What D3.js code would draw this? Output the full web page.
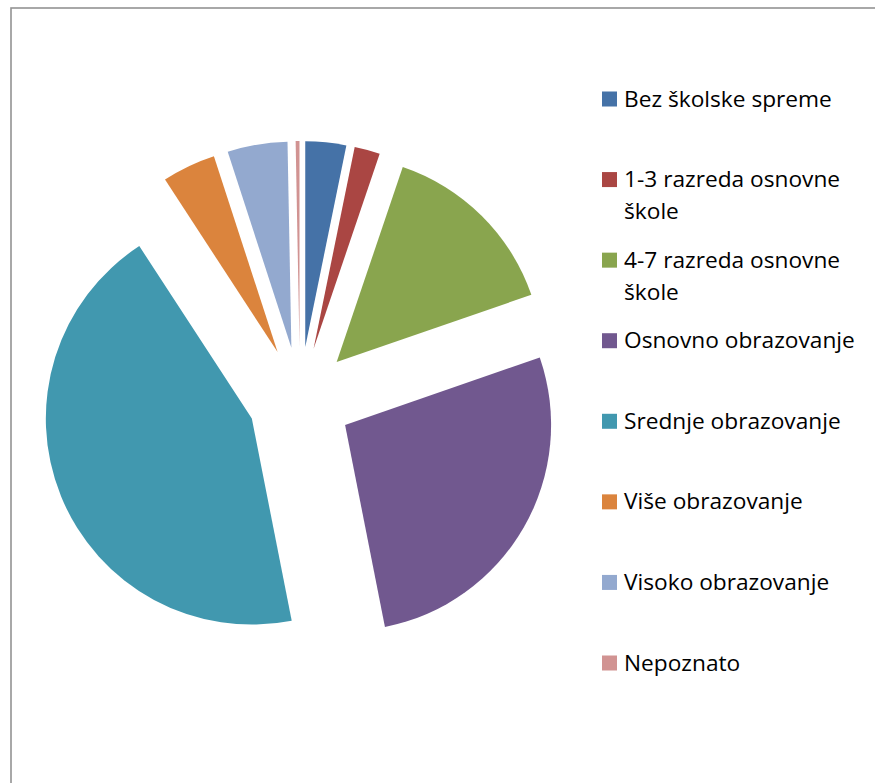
<!DOCTYPE html>
<html>
<head>
<meta charset="utf-8">
<script src="https://cdn.jsdelivr.net/npm/d3@7"></script>
<style>
body { margin: 0; background: #fff; }
.legendText {
  font-family: "Open Sans", sans-serif;
  font-size: 20px;
  fill: #000;
}
</style>
</head>
<body>
<svg width="875" height="783"></svg>
<script>
// share of population by education level (%)
var categories = ["Bez školske spreme", "1-3 razreda osnovne škole", "4-7 razreda osnovne škole",
                  "Osnovno obrazovanje", "Srednje obrazovanje", "Više obrazovanje",
                  "Visoko obrazovanje", "Nepoznato"];
var values = [3.2, 2.0, 14.5, 27.2, 43.9, 4.2, 4.7, 0.3];
var colors = ["#4572A7", "#AA4643", "#89A54E", "#71588F", "#4198AF", "#DB843D", "#93A9CF", "#D19392"];

var svg = d3.select("svg");

// chart frame (only left and top edges are visible in the window)
svg.append("rect")
    .attr("x", 11).attr("y", 8)
    .attr("width", 1000).attr("height", 1000)
    .style("fill", "none")
    .style("stroke", "#939393")
    .style("stroke-width", 1.6);

var cx = 300, cy = 399,
    radius = 206,
    explode = 52;

var pie = d3.pie()
    .sort(null)
    .value(function(d) { return d; });

var arc = d3.arc()
    .innerRadius(0)
    .outerRadius(radius);

var color = d3.scaleOrdinal()
    .domain(categories)
    .range(colors);

var g = svg.append("g").attr("transform", "translate(" + cx + "," + cy + ")");

g.selectAll("path")
    .data(pie(values))
    .enter().append("path")
      .attr("d", arc)
      .attr("transform", function(d) {
        var a = (d.startAngle + d.endAngle) / 2;
        return "translate(" + (explode * Math.sin(a)) + "," + (-explode * Math.cos(a)) + ")";
      })
      .style("fill", function(d, i) { return color(categories[i]); });

// fit legend font so the first label is as wide as in the original (~208px)
var probe = svg.append("text").attr("class", "legendText").text(categories[0]);
var fontSize = 20 * 208 / probe.node().getComputedTextLength();
probe.remove();

// legend
var legendY = d3.scalePoint()
    .domain(categories)
    .range([99, 663]);

var legend = svg.append("g").selectAll("g")
    .data(categories)
    .enter().append("g")
      .attr("transform", function(d) { return "translate(602," + legendY(d) + ")"; });

legend.append("rect")
    .attr("x", 0).attr("y", -7.5)
    .attr("width", 15).attr("height", 15)
    .style("fill", function(d) { return color(d); });

legend.append("text")
    .attr("class", "legendText")
    .style("font-size", fontSize + "px")
    .attr("x", 22)
    .attr("y", 7.5)
    .each(function(d) {
      var t = d3.select(this), words = d.split(" "), line = [];
      var tspan = t.append("tspan").attr("x", 22).attr("dy", 0);
      words.forEach(function(w) {
        line.push(w);
        tspan.text(line.join(" "));
        if (tspan.node().getComputedTextLength() > 250 && line.length > 1) {
          line.pop();
          tspan.text(line.join(" "));
          line = [w];
          tspan = t.append("tspan").attr("x", 22).attr("dy", 32).text(w);
        }
      });
    });
</script>
</body>
</html>
